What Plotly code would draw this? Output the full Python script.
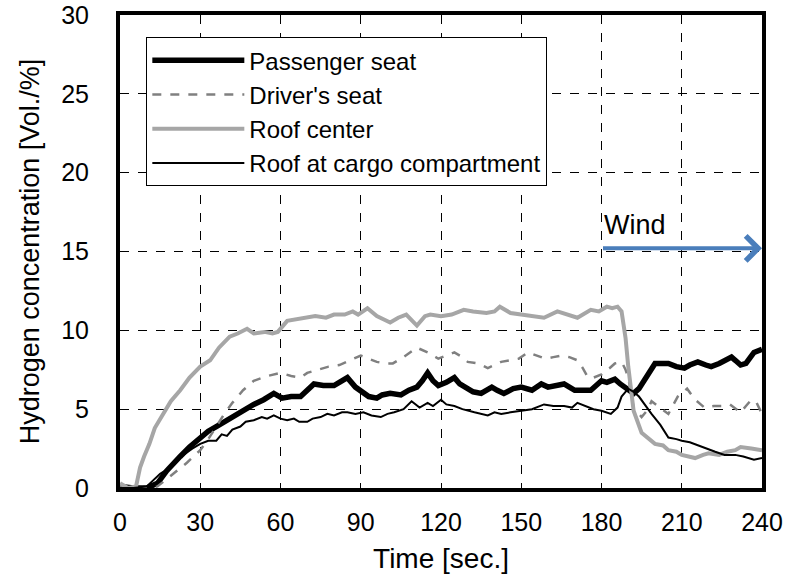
import plotly.graph_objects as go

# ---- data ----
t_passenger = [0, 5, 10, 14, 17.5, 20, 22.5, 26, 30, 33, 36, 39, 42, 45, 47.5, 50, 53.7, 57.5, 60.6, 64, 67.5, 70, 72.5, 76, 80, 82, 85, 88, 91, 93, 96, 98, 101, 105, 108, 111, 113, 115, 117, 119, 122, 125, 127, 130, 132, 135, 139, 141, 143.5, 147, 150, 154, 157.5, 160, 162.5, 166, 168, 170, 173, 176, 178, 180, 182, 185, 187, 188.7, 190, 192, 194, 196, 198, 200, 203, 205, 208, 211, 213, 216, 219, 221, 224, 226, 228.6, 230, 232, 234, 237, 240]
v_passenger = [0.1, 0, 0, 0.3, 1.1, 1.6, 2.0, 2.6, 3.2, 3.6, 3.9, 4.2, 4.5, 4.8, 5.1, 5.3, 5.6, 6.0, 5.7, 5.8, 5.8, 6.2, 6.6, 6.5, 6.5, 6.7, 7.0, 6.4, 6.0, 5.8, 5.7, 5.9, 6.0, 5.9, 6.2, 6.4, 6.8, 7.3, 6.8, 6.5, 6.7, 7.0, 6.6, 6.3, 6.1, 6.0, 6.4, 6.2, 6.0, 6.3, 6.4, 6.2, 6.6, 6.4, 6.5, 6.6, 6.4, 6.2, 6.2, 6.2, 6.5, 6.8, 6.7, 6.9, 6.6, 6.4, 6.3, 6.0, 6.3, 6.8, 7.4, 7.9, 7.9, 7.9, 7.7, 7.6, 7.8, 8.0, 7.8, 7.7, 7.9, 8.1, 8.3, 8.1, 7.8, 7.9, 8.6, 8.8]

t_driver = [0, 5, 10, 14, 17, 20, 25, 30, 33, 36, 39, 42, 46, 50, 55, 60, 64, 67.5, 70, 74, 78, 82, 86, 90, 93, 96, 99, 102, 106, 111, 115, 119, 122, 125, 128, 130, 134, 137.5, 140, 142.5, 146, 149, 152.5, 156, 159, 162, 165, 168, 171, 173, 175, 177, 180, 183, 185, 187.5, 189, 190, 192, 195, 197, 198.7, 201, 205, 208.5, 212, 215, 218.5, 222, 225, 228, 232, 234, 236, 238, 240]
v_driver = [0.1, 0, 0, 0.1, 0.5, 0.9, 1.6, 2.4, 3.1, 3.9, 4.7, 5.4, 6.2, 6.8, 7.1, 7.3, 7.1, 7.0, 7.3, 7.5, 7.7, 7.8, 8.1, 8.4, 8.2, 8.0, 7.9, 7.9, 8.3, 8.9, 8.6, 8.2, 8.4, 8.6, 8.3, 8.0, 7.9, 7.6, 7.8, 8.0, 8.1, 8.2, 8.6, 8.4, 8.2, 8.3, 8.4, 8.3, 8.1, 7.6, 7.0, 7.0, 7.2, 7.6, 7.9, 8.0, 7.5, 7.0, 5.1, 4.5, 4.9, 5.5, 5.2, 4.7, 5.8, 6.3, 5.6, 5.1, 5.2, 5.2, 5.3, 4.8, 5.2, 5.6, 5.4, 4.7]

t_roof = [0, 3, 6, 7.5, 9, 11, 13, 16, 19, 22.5, 26, 30, 33.7, 37, 41, 44, 47.5, 50, 54, 57, 59, 62.5, 66, 70, 73, 77, 80, 84, 87, 89, 92.5, 96, 101, 104, 107, 111, 114, 116, 120, 124, 128.5, 132, 137, 140, 142, 146, 150, 154, 158.5, 163.5, 167, 171, 176, 179, 182, 184, 186, 187.5, 189, 190, 192, 195, 200, 203, 205, 208, 210, 213, 215, 218, 220, 224, 227, 230, 232, 236, 240]
v_roof = [0.3, 0, 0.1, 1.3, 2.0, 2.8, 3.8, 4.7, 5.5, 6.2, 7.0, 7.7, 8.1, 8.9, 9.6, 9.8, 10.1, 9.8, 9.9, 9.8, 9.9, 10.6, 10.7, 10.8, 10.9, 10.8, 11.0, 11.0, 11.2, 11.0, 11.4, 10.9, 10.5, 10.8, 11.0, 10.3, 10.9, 11.0, 10.9, 11.0, 11.3, 11.2, 11.1, 11.2, 11.5, 11.1, 11.0, 10.9, 10.8, 11.2, 11.0, 10.8, 11.3, 11.2, 11.5, 11.4, 11.5, 11.2, 9.5, 7.7, 4.9, 3.5, 2.8, 2.7, 2.4, 2.3, 2.1, 2.0, 1.9, 2.1, 2.2, 2.1, 2.3, 2.4, 2.6, 2.5, 2.4]

t_cargo = [0, 5, 10, 12, 15, 18.7, 21, 23.7, 27, 30, 33, 36, 38, 40, 42, 45, 47, 50, 53, 55, 57.5, 60, 62.5, 65, 67, 70, 72, 75, 77.5, 80, 83, 85, 88, 91, 94, 97.5, 100, 102.5, 106, 109, 112, 115, 117, 120, 122, 125, 128, 132.5, 135, 137.5, 140, 142.5, 146, 150, 154, 158.5, 162, 166, 169, 171, 174, 177, 180, 183.5, 186, 187.5, 190, 192, 194, 196, 198.7, 202, 205, 208, 210, 213, 216, 219, 222.5, 226, 230, 233, 237, 240]
v_cargo = [0, 0, 0.1, 0.4, 0.9, 1.3, 1.7, 2.1, 2.5, 2.8, 3.0, 3.0, 3.4, 3.3, 3.7, 3.9, 4.2, 4.3, 4.5, 4.4, 4.6, 4.4, 4.3, 4.4, 4.2, 4.2, 4.4, 4.5, 4.7, 4.6, 4.8, 4.8, 4.7, 4.8, 4.6, 4.5, 4.7, 4.8, 5.0, 5.5, 5.1, 5.4, 5.2, 5.6, 5.3, 5.2, 5.0, 4.8, 4.7, 4.6, 4.8, 4.7, 4.8, 4.9, 5.0, 5.3, 5.2, 5.2, 5.1, 5.4, 5.2, 5.0, 4.9, 4.7, 5.1, 5.8, 6.3, 6.1, 5.8, 5.3, 4.7, 4.0, 3.2, 3.1, 3.0, 2.9, 2.7, 2.5, 2.3, 2.1, 2.1, 2.0, 1.8, 1.9]

x_ticks = [0, 30, 60, 90, 120, 150, 180, 210, 240]
y_ticks = [0, 5, 10, 15, 20, 25, 30]

wind_start = 180
wind_end = 240
wind_level = 15.2

FONT = "Arial, Liberation Sans, sans-serif"

fig = go.Figure()
fig.add_trace(go.Scatter(x=t_passenger, y=v_passenger, mode="lines", name="Passenger seat",
                         line=dict(color="black", width=5.5)))
fig.add_trace(go.Scatter(x=t_driver, y=v_driver, mode="lines", name="Driver's seat",
                         line=dict(color="#808080", width=2.5, dash="dash")))
fig.add_trace(go.Scatter(x=t_roof, y=v_roof, mode="lines", name="Roof center",
                         line=dict(color="#a6a6a6", width=4)))
fig.add_trace(go.Scatter(x=t_cargo, y=v_cargo, mode="lines", name="Roof at cargo compartment",
                         line=dict(color="black", width=2)))

# Wind arrow
fig.add_annotation(x=wind_end, y=wind_level, ax=wind_start, ay=wind_level,
                   xref="x", yref="y", axref="x", ayref="y",
                   text="", showarrow=True, arrowhead=4, arrowsize=1.2,
                   arrowwidth=4, arrowcolor="#4a7ebb")
fig.add_annotation(x=wind_start, y=wind_level, xref="x", yref="y",
                   text="Wind", showarrow=False, xanchor="left", yanchor="bottom",
                   xshift=0, yshift=6,
                   font=dict(family=FONT, size=27, color="black"))

fig.update_layout(
    width=785, height=577,
    margin=dict(l=120, r=23, t=15, b=89),
    paper_bgcolor="white", plot_bgcolor="white",
    font=dict(family=FONT, size=25, color="black"),
    showlegend=True,
    legend=dict(x=0.041, y=0.953, xanchor="left", yanchor="top",
                bgcolor="white", bordercolor="black", borderwidth=1,
                font=dict(family=FONT, size=24, color="black"),
                traceorder="normal", itemwidth=92),
    xaxis=dict(range=[0, 240], tickvals=x_ticks, ticktext=[str(v) for v in x_ticks],
               showgrid=True, gridcolor="black", gridwidth=1, griddash="dash",
               showline=True, linecolor="black", linewidth=4, mirror=True,
               zeroline=False, ticks="", ticklabelstandoff=9, automargin=False,
               ticklabeloverflow="allow", tickfont=dict(size=25),
               title=dict(text="Time [sec.]", font=dict(size=28), standoff=14)),
    yaxis=dict(range=[0, 30], tickvals=y_ticks, ticktext=[str(v) for v in y_ticks],
               showgrid=True, gridcolor="black", gridwidth=1, griddash="dash",
               showline=True, linecolor="black", linewidth=4, mirror=True,
               zeroline=False, ticks="", ticklabelstandoff=22, automargin=False,
               ticklabeloverflow="allow", tickfont=dict(size=25),
               title=dict(text="Hydrogen concentration [Vol./%]", font=dict(size=27), standoff=15)),
)

# remove the browser's default 8 px page margin so the figure fills the window exactly
fig.write_html("out.html", config={"displayModeBar": False},
               post_script="document.body.style.margin='0';document.body.style.overflow='hidden';")
